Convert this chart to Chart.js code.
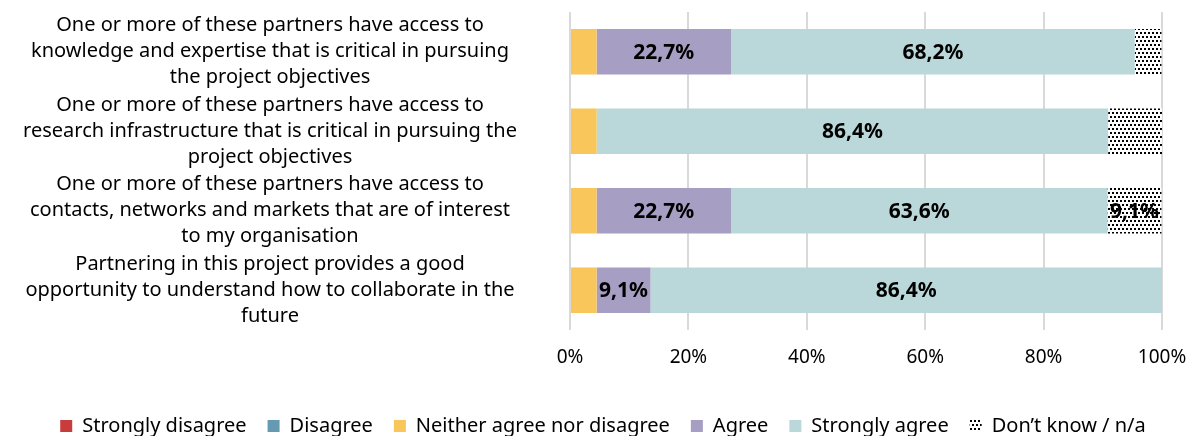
<!DOCTYPE html>
<html>
<head>
<meta charset="utf-8">
<script src="https://cdn.jsdelivr.net/npm/chart.js@4/dist/chart.umd.min.js"></script>
<style>
  html, body { margin: 0; padding: 0; background: #ffffff; }
  #wrap { width: 1190px; height: 436px; position: relative; overflow: hidden; }
</style>
</head>
<body>
<div id="wrap"><canvas id="chart" width="1190" height="436"></canvas></div>
<script>
// Statements (each one wrapped onto the lines it is printed on)
const categories = [
  ["One or more of these partners have access to", "knowledge and expertise that is critical in pursuing", "the project objectives"],
  ["One or more of these partners have access to", "research infrastructure that is critical in pursuing the", "project objectives"],
  ["One or more of these partners have access to", "contacts, networks and markets that are of interest", "to my organisation"],
  ["Partnering in this project provides a good", "opportunity to understand how to collaborate in the", "future"]
];

// Share of respondents per answer (%)
const stronglyDisagree = [0, 0, 0, 0];
const disagree         = [0, 0, 0, 0];
const neither          = [4.5, 4.5, 4.5, 4.5];
const agree            = [22.7, 0, 22.7, 9.1];
const stronglyAgree    = [68.2, 86.4, 63.6, 86.4];
const dontKnow         = [4.5, 9.1, 9.1, 0];

// Which segments carry a printed value
const agreeLabelled    = [true, false, true, true];
const strongLabelled   = [true, true, true, true];
const dontKnowLabelled = [false, false, true, false];

const xTicks = [0, 20, 40, 60, 80, 100];

const FONT = "'Noto Sans', 'DejaVu Sans', sans-serif";
const LABEL_SIZE = 20;

// Stippled fill for "Don't know / n/a"
function dotPattern() {
  const c = document.createElement('canvas');
  c.width = 4; c.height = 8;
  const g = c.getContext('2d');
  g.fillStyle = '#ffffff';
  g.fillRect(0, 0, 4, 8);
  g.fillStyle = '#000000';
  g.fillRect(0, 0, 2, 2);
  g.fillRect(2, 4, 2, 2);
  return g.createPattern(c, 'repeat');
}

// Widest label line, used to centre the label block left of the plot
const measureCtx = document.createElement('canvas').getContext('2d');
measureCtx.font = LABEL_SIZE + "px " + FONT;
let widest = 0;
categories.forEach(lines => lines.forEach(l => { widest = Math.max(widest, measureCtx.measureText(l).width); }));
const PLOT_LEFT = 570;
const LABEL_CENTRE = 270;

// Prints percentages (decimal comma) in the middle of flagged segments
const valueLabels = {
  id: 'valueLabels',
  afterDatasetsDraw(chart) {
    const ctx = chart.ctx;
    ctx.save();
    ctx.font = "bold 21px " + FONT;
    ctx.fillStyle = '#000000';
    ctx.textAlign = 'center';
    ctx.textBaseline = 'middle';
    chart.data.datasets.forEach((ds, di) => {
      if (!ds.labelled) return;
      const meta = chart.getDatasetMeta(di);
      meta.data.forEach((el, i) => {
        if (!ds.labelled[i]) return;
        const txt = ds.data[i].toFixed(1).replace('.', ',') + '%';
        ctx.fillText(txt, (el.x + el.base) / 2, el.y + 1);
      });
    });
    ctx.restore();
  }
};

// Legend sits flush with the bottom edge, nudged below and right of its usual slot
const LEGEND_DROP = 10;
const LEGEND_SHIFT = 22;
const legendDrop = {
  id: 'legendDrop',
  afterLayout(chart) {
    if (chart.legend) {
      chart.legend.top += LEGEND_DROP;
      chart.legend.bottom += LEGEND_DROP;
      chart.legend.left += LEGEND_SHIFT;
      chart.legend.right += LEGEND_SHIFT;
    }
  }
};

const datasets = [
  { label: 'Strongly disagree', data: stronglyDisagree, backgroundColor: '#C83C3C' },
  { label: 'Disagree', data: disagree, backgroundColor: '#6699B2' },
  { label: 'Neither agree nor disagree', data: neither, backgroundColor: '#F8C65B' },
  { label: 'Agree', data: agree, backgroundColor: '#A69EC3', labelled: agreeLabelled },
  { label: 'Strongly agree', data: stronglyAgree, backgroundColor: '#BAD8DA', labelled: strongLabelled },
  { label: 'Don\u2019t know / n/a', data: dontKnow, backgroundColor: dotPattern(), labelled: dontKnowLabelled }
];

new Chart(document.getElementById('chart'), {
  type: 'bar',
  data: { labels: categories, datasets: datasets },
  options: {
    indexAxis: 'y',
    responsive: false,
    animation: false,
    devicePixelRatio: 1,
    datasets: { bar: { categoryPercentage: 1, barPercentage: 0.57, borderWidth: 0 } },
    layout: { padding: { top: 12, right: 28, bottom: 0, left: 0 } },
    scales: {
      x: {
        stacked: true,
        min: 0,
        max: 100,
        afterBuildTicks(scale) { scale.ticks = xTicks.map(v => ({ value: v })); },
        afterFit(scale) {
          scale.height = 55;
          scale.paddingLeft = 0;
          scale.paddingRight = 0;
        },
        grid: { color: '#d9d9d9', lineWidth: 2, drawTicks: false },
        border: { display: false },
        ticks: {
          padding: 16,
          color: '#000000',
          font: { family: FONT, size: 19 },
          callback: v => v + '%'
        }
      },
      y: {
        stacked: true,
        grid: { display: false, drawTicks: false },
        border: { display: false },
        afterFit(scale) {
          scale.width = PLOT_LEFT;
          scale.paddingTop = 0;
          scale.paddingBottom = 0;
        },
        ticks: {
          autoSkip: false,
          crossAlign: 'center',
          padding: PLOT_LEFT - LABEL_CENTRE - widest / 2,
          color: '#000000',
          font: { family: FONT, size: LABEL_SIZE, lineHeight: 1.3 }
        }
      }
    },
    plugins: {
      legend: {
        position: 'bottom',
        labels: {
          boxWidth: 12,
          boxHeight: 12,
          padding: 21,
          color: '#000000',
          font: { family: FONT, size: 20 }
        }
      },
      tooltip: { enabled: false },
      title: { display: false }
    }
  },
  plugins: [valueLabels, legendDrop]
});
</script>
</body>
</html>
